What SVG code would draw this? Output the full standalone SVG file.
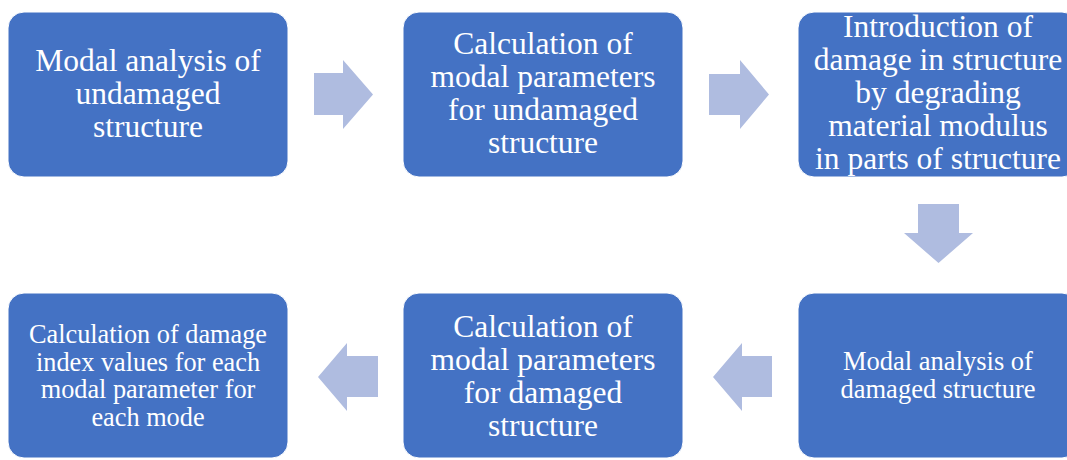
<svg xmlns="http://www.w3.org/2000/svg" width="1067" height="460" viewBox="0 0 1067 460">
<style>
.box{fill:#4472C4;stroke:#ffffff;stroke-width:1}
.arr{fill:#AFBCE0}
.t{font-family:"Liberation Serif","Times New Roman",serif;fill:#ffffff;text-anchor:middle}
.big{font-size:31.5px}
.mid{font-size:26.5px}
</style>
<rect width="1067" height="460" fill="#ffffff"/>
<g id="connectors">
<polygon class="arr" points="314,73 343,73 343,60 373,94.5 343,129 343,115 314,115"/>
<polygon class="arr" points="709,74 740,74 740,60 769,94.5 740,129 740,115 709,115"/>
<polygon class="arr" points="918,204 959,204 959,233 973,233 938.5,263 904,233 918,233"/>
<polygon class="arr" points="772,356 742,356 742,343 713,377 742,411 742,397 772,397"/>
<polygon class="arr" points="378,356 347,356 347,343 318,377 347,411 347,397 378,397"/>
</g>
<g id="node1">
<rect class="box" x="8" y="12" width="280" height="165" rx="16"/>
<text class="t big" x="148"><tspan x="148" y="71">Modal analysis of</tspan><tspan x="148" y="104">undamaged</tspan><tspan x="148" y="137">structure</tspan></text>
</g>
<g id="node2">
<rect class="box" x="403" y="12" width="280" height="165" rx="16"/>
<text class="t big" x="543"><tspan x="543" y="54">Calculation of</tspan><tspan x="543" y="87">modal parameters</tspan><tspan x="543" y="120">for undamaged</tspan><tspan x="543" y="153">structure</tspan></text>
</g>
<g id="node3">
<rect class="box" x="798" y="12" width="280" height="165" rx="16"/>
<text class="t big" x="938"><tspan x="938" y="37">Introduction of</tspan><tspan x="938" y="70">damage in structure</tspan><tspan x="938" y="103">by degrading</tspan><tspan x="938" y="136">material modulus</tspan><tspan x="938" y="169">in parts of structure</tspan></text>
</g>
<g id="node4">
<rect class="box" x="798" y="293" width="280" height="165" rx="16"/>
<text class="t mid" x="938"><tspan x="938" y="370">Modal analysis of</tspan><tspan x="938" y="398">damaged structure</tspan></text>
</g>
<g id="node5">
<rect class="box" x="403" y="293" width="280" height="165" rx="16"/>
<text class="t big" x="543"><tspan x="543" y="337">Calculation of</tspan><tspan x="543" y="370">modal parameters</tspan><tspan x="543" y="403">for damaged</tspan><tspan x="543" y="436">structure</tspan></text>
</g>
<g id="node6">
<rect class="box" x="8" y="293" width="280" height="165" rx="16"/>
<text class="t mid" x="148" style="font-size:26.3px"><tspan x="148" y="343">Calculation of damage</tspan><tspan x="148" y="371">index values for each</tspan><tspan x="148" y="398">modal parameter for</tspan><tspan x="148" y="426">each mode</tspan></text>
</g>
</svg>
